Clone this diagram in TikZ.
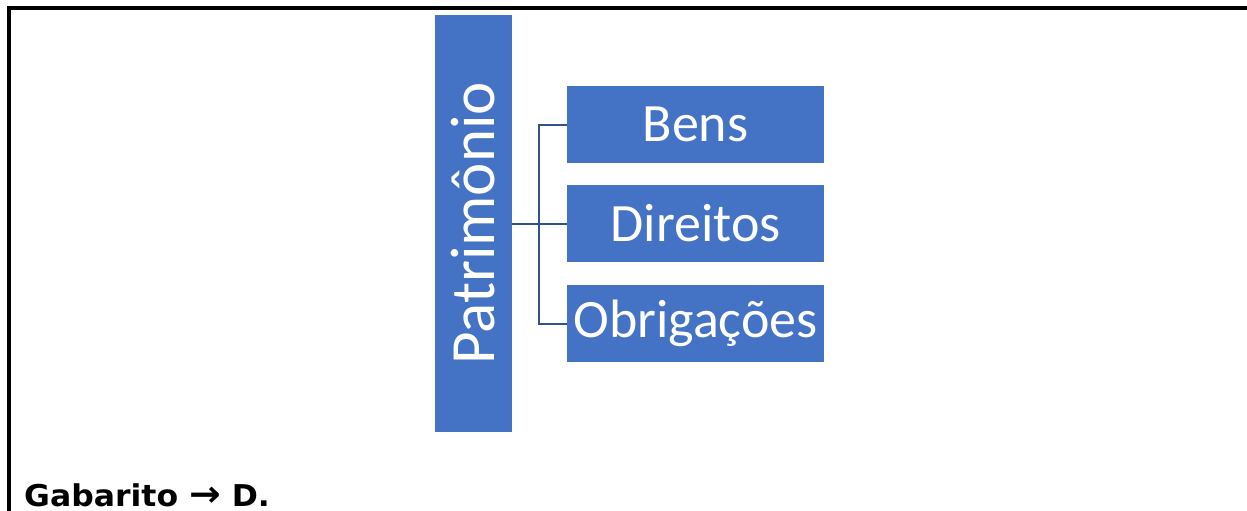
\documentclass[tikz,border=0pt]{standalone}
\usepackage{fontspec}
\setmainfont{Carlito}
\newfontfamily\gabfont[FakeStretch=1.05]{DejaVu Sans}
\definecolor{boxblue}{RGB}{68,114,196}
\definecolor{linkblue}{RGB}{47,82,143}
\begin{document}
\begin{tikzpicture}[x=1pt,y=-1pt,
  bluebox/.style={fill=boxblue, draw=none, inner sep=0pt, text=white, minimum width=257pt, minimum height=77pt, font=\fontsize{54}{54}\selectfont},
  link/.style={draw=linkblue, line width=2pt}]
\useasboundingbox (0,0) rectangle (1247,511);
\fill[black] (7,6) rectangle (1247,10);
\fill[black] (7,6) rectangle (11,511);
\node[bluebox, rotate=90, minimum width=417pt, minimum height=77pt, font=\fontsize{63}{63}\selectfont] (pat) at (473.5,223.5) {Patrimônio};
\node[bluebox] (bens) at (695.5,124.5) {Bens};
\node[bluebox] (dir) at (695.5,223.5) {Direitos};
\node[bluebox] (obr) at (695.5,323.5) {Obrigações};
\coordinate (j) at (539,224);
\draw[link] (pat.south) -- (dir.west);
\draw[link] (bens.west) -- (bens.west -| j) -- (obr.west -| j) -- (obr.west);
\node[anchor=base west, inner sep=0pt, font=\gabfont\bfseries\fontsize{30}{30}\selectfont] (gab) at (24,506) {Gabarito {\fontsize{36}{30}\selectfont →} D.};
\end{tikzpicture}
\end{document}
